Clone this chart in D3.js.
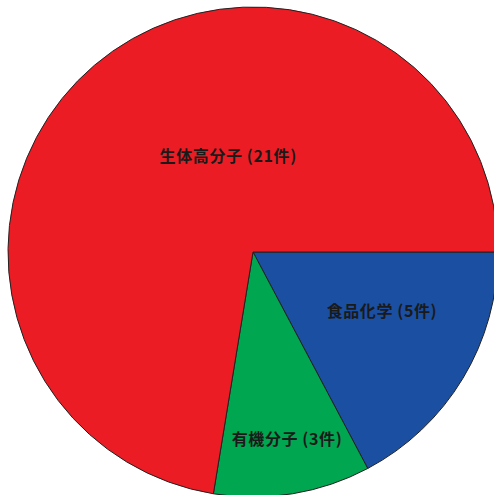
<!DOCTYPE html>
<html><head><meta charset="utf-8">
<script src="https://cdn.jsdelivr.net/npm/d3@7/dist/d3.min.js"></script>
<style>html,body{margin:0;padding:0;background:#fff;overflow:hidden}</style>
</head><body>
<script>
const categories = ["食品化学", "有機分子", "生体高分子"];
const counts = [5, 3, 21];
const colors = ["#1b4fa1", "#00a650", "#ec1c24"];
const labels = ["食品化学 (5件)", "有機分子 (3件)", "生体高分子 (21件)"];

const W = 494, H = 495;
const cx = 253, cy = 252, R = 245;
const svg = d3.select("body").append("svg").attr("width", W).attr("height", H);
const data = categories.map((c, i) => ({c, v: counts[i], color: colors[i], label: labels[i]}));
const pie = d3.pie().value(d => d.v).sort(null).startAngle(Math.PI/2).endAngle(Math.PI/2 + 2*Math.PI);
const arcs = pie(data);
const arc = d3.arc().innerRadius(0).outerRadius(R);
const g = svg.append("g").attr("transform", `translate(${cx},${cy})`);
g.selectAll("path").data(arcs).enter().append("path")
  .attr("d", arc).attr("fill", d => d.data.color)
  .attr("stroke", "#222").attr("stroke-width", 1).attr("stroke-linejoin", "round");
// label placement: radius fraction and angle fraction within slice
const labelR = [0.577, 0.772, 0.41];
const labelA = [0.39, 0.472, 0.60];
g.selectAll("text").data(arcs).enter().append("text")
  .attr("transform", (d, i) => {
    const a = d.startAngle + (d.endAngle - d.startAngle) * labelA[i];
    const r = R * labelR[i];
    return `translate(${r*Math.sin(a)},${-r*Math.cos(a)})`;
  })
  .attr("text-anchor", "middle").attr("dominant-baseline", "central")
  .attr("font-family", "'Noto Sans CJK JP', sans-serif").attr("font-size", 16).attr("font-weight", 700)
  .attr("letter-spacing", 0.6)
  .attr("fill", "#1a1a1a")
  .text(d => d.data.label);
</script>
</body></html>
